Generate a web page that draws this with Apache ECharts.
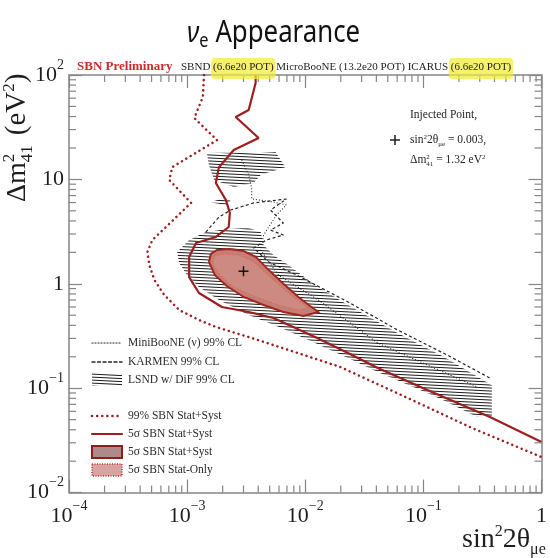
<!DOCTYPE html>
<html>
<head>
<meta charset="utf-8">
<script src="https://cdn.jsdelivr.net/npm/echarts@6/dist/echarts.min.js"></script>
<style>
  html, body { margin: 0; padding: 0; background: #fff; }
  #chart { width: 550px; height: 558px; }
</style>
</head>
<body>
<div id="chart"></div>
<script>
// ---- Contours in (sin^2 2theta_mue, dm^2_41 [eV^2]) ----
// SBN 99% CL sensitivity, stat+syst (dotted)
const sbn99X = [1.39e-3, 1.36e-3, 1.15e-3, 1.79e-3, 7.48e-4, 7.06e-4, 1.08e-3, 5.08e-4, 4.61e-4, 4.79e-4, 5.28e-4, 6.41e-4, 8.57e-4, 1.26e-3, 1.75e-3, 3.32e-3, 5.38e-3, 1.97e-2, 7.06e-2, 0.258, 1.0];
const sbn99Y = [100, 61.6, 38.7, 23.8, 13.1, 9.87, 5.95, 2.63, 2.02, 1.51, 1.09, 0.782, 0.561, 0.450, 0.386, 0.309, 0.259, 0.160, 0.0824, 0.0416, 0.0219];

// SBN 5 sigma sensitivity, stat+syst (solid)
const sbn5sX = [3.80e-3, 3.80e-3, 3.32e-3, 2.58e-3, 4.03e-3, 2.48e-3, 1.86e-3, 1.75e-3, 2.13e-3, 2.30e-3, 2.25e-3, 1.75e-3, 1.19e-3, 1.04e-3, 1.04e-3, 1.26e-3, 1.97e-3, 3.32e-3, 5.38e-3, 1.21e-2, 2.30e-2, 4.11e-2, 0.108, 0.366, 1.0];
const sbn5sY = [100, 83.8, 46.2, 39.6, 24.9, 19.1, 13.1, 9.24, 6.35, 4.77, 3.50, 2.81, 2.46, 1.81, 1.16, 0.817, 0.600, 0.537, 0.470, 0.309, 0.217, 0.156, 0.0962, 0.0530, 0.0305];

// 5 sigma allowed region around the injected point, stat+syst
const allowSystX = [1.53e-3, 1.59e-3, 1.79e-3, 2.25e-3, 3.01e-3, 3.80e-3, 4.70e-3, 6.29e-3, 8.74e-3, 1.10e-2, 1.29e-2, 9.62e-3, 6.53e-3, 4.44e-3, 3.01e-3, 2.17e-3, 1.72e-3];
const allowSystY = [1.62, 1.93, 2.11, 2.15, 2.06, 1.81, 1.42, 1.04, 0.748, 0.612, 0.537, 0.492, 0.537, 0.626, 0.748, 0.953, 1.21];

// 5 sigma allowed region, stat only
const allowStatX = [1.65e-3, 1.72e-3, 2.01e-3, 2.74e-3, 3.66e-3, 4.89e-3, 7.19e-3, 1.06e-2, 8.74e-3, 5.93e-3, 3.66e-3, 2.48e-3, 1.93e-3, 1.72e-3];
const allowStatY = [1.62, 1.85, 1.93, 1.89, 1.62, 1.21, 0.817, 0.586, 0.561, 0.626, 0.764, 0.932, 1.19, 1.42];

// LSND w/ DiF 99% CL islands
const lsndBandX = [8.24e-4, 1.04e-3, 1.44e-3, 2.25e-3, 3.32e-3, 4.19e-3, 4.44e-3, 5.38e-3, 7.19e-3, 1.21e-2, 2.30e-2, 6.05e-2, 0.150, 0.380, 0.380, 0.284, 0.159, 0.108, 4.11e-2, 2.30e-2, 1.21e-2, 6.29e-3, 3.32e-3, 1.86e-3, 1.26e-3, 1.0e-3, 8.57e-4];
const lsndBandY = [2.02, 2.63, 3.13, 3.35, 3.42, 3.13, 2.35, 1.89, 1.51, 0.975, 0.626, 0.338, 0.199, 0.107, 0.0530, 0.0530, 0.0738, 0.0899, 0.143, 0.195, 0.271, 0.378, 0.502, 0.700, 0.932, 1.21, 1.58];
const lsndHighX = [1.47e-3, 5.60e-3, 6.79e-3, 4.19e-3, 3.66e-3, 2.48e-3, 1.69e-3, 1.53e-3];
const lsndHighY = [17.9, 18.3, 13.1, 11.0, 9.24, 8.46, 9.87, 13.7];
const lsndMidX = [1.59e-3, 2.05e-3, 2.34e-3, 2.17e-3, 1.69e-3];
const lsndMidY = [6.08, 6.64, 6.35, 5.69, 5.95];

// KARMEN 99% CL (dashed)
const karmenX = [1.44e-3, 1.86e-3, 2.34e-3, 3.66e-3, 6.92e-3, 5.08e-3, 6.53e-3, 5.08e-3, 6.53e-3, 4.70e-3, 3.66e-3, 4.89e-3, 8.74e-3, 2.30e-2, 6.05e-2, 0.159, 0.366];
const karmenY = [3.13, 4.36, 5.09, 5.95, 6.49, 5.09, 3.82, 3.27, 2.93, 2.63, 2.20, 1.62, 1.19, 0.670, 0.361, 0.208, 0.125];

// MiniBooNE (nu) 99% CL (dotted)
const minibooneX = [2.90e-3, 3.32e-3, 3.52e-3, 3.52e-3, 5.38e-3, 6.92e-3, 5.70e-3, 4.44e-3, 4.19e-3, 5.93e-3, 1.29e-2, 4.11e-2, 0.108, 0.284];
const minibooneY = [15.3, 11.0, 8.28, 6.49, 6.08, 5.69, 4.56, 2.93, 2.11, 1.21, 0.700, 0.271, 0.167, 0.103];

// Injected signal point
const injectedX = [0.003];
const injectedY = [1.32];

// Axis ranges and log-minor tick multipliers
const xRange = [1e-4, 1];
const yRange = [1e-2, 1e2];
const xDecades = [1e-4, 1e-3, 1e-2, 1e-1];
const yDecades = [1e-2, 1e-1, 1, 10];
const minorSteps = [2, 3, 4, 5, 6, 7, 8, 9];

// ---- styling ----
const SERIF = '"Liberation Serif", "Times New Roman", serif';
const SANS = '"Noto Sans", "Open Sans", sans-serif';
const AXIS = '#858585';
const DARKRED = '#9c1f1f';
const INK = '#1e1e1e';

// dense near-horizontal hatching used for the LSND region
const hatch = document.createElement('canvas');
hatch.width = 60; hatch.height = 3;
(function () {
  const c = hatch.getContext('2d');
  c.strokeStyle = '#1c1c1c';
  c.lineWidth = 1;
  for (const k of [-3, 0, 3]) {
    c.beginPath(); c.moveTo(0, 0.5 + k); c.lineTo(60, 3.5 + k); c.stroke();
  }
})();
const hatchFill = { image: hatch, repeat: 'repeat' };

const measureCtx = document.createElement('canvas').getContext('2d');
function textWidth(t, font) { measureCtx.font = font; return measureCtx.measureText(t).width; }

// run of text pieces on a common baseline (supports super/subscripts)
function mathRun(x, baseline, parts, color, family) {
  const fam = family || SERIF;
  let cx = x;
  const els = [];
  for (const p of parts) {
    const font = (p.italic ? 'italic ' : '') + (p.bold ? 'bold ' : '') + p.size + 'px ' + fam;
    els.push({
      type: 'text', x: cx, y: baseline + (p.dy || 0) - 0.32 * p.size,
      style: { text: p.t, font: font, fill: p.color || color, align: 'left', verticalAlign: 'middle', textAlign: 'left', textVerticalAlign: 'middle' }
    });
    if (!p.hold) cx += textWidth(p.t, font) + (p.gap || 0);
  }
  return { els: els, end: cx };
}

function pts(xs, ys) { return xs.map((x, i) => [x, ys[i]]); }

function polygonSeries(xs, ys, style, z) {
  return {
    type: 'custom', coordinateSystem: 'cartesian2d', silent: true, z: z,
    data: [[xs[0], ys[0]]],
    renderItem: (params, api) => ({
      type: 'polygon',
      shape: { points: xs.map((x, i) => api.coord([x, ys[i]])) },
      style: style
    })
  };
}

function lineSeries(xs, ys, lineStyle, z) {
  return {
    type: 'line', data: pts(xs, ys), symbol: 'none', showSymbol: false, silent: true,
    z: z, lineStyle: lineStyle, clip: true
  };
}

const xMinor = [];
xDecades.forEach(d => minorSteps.forEach(m => xMinor.push(d * m)));
const yMinor = [];
yDecades.forEach(d => minorSteps.forEach(m => yMinor.push(d * m)));

function minorTickSeries(vals, isX) {
  return {
    type: 'custom', silent: true, z: 20,
    data: vals.map(v => isX ? [v, yRange[0]] : [xRange[0], v]),
    renderItem: (params, api) => {
      const st = { stroke: AXIS, lineWidth: 1.2 };
      if (isX) {
        const v = api.value(0);
        const b = api.coord([v, yRange[0]]), t = api.coord([v, yRange[1]]);
        return { type: 'group', children: [
          { type: 'line', shape: { x1: b[0], y1: b[1], x2: b[0], y2: b[1] - 7 }, style: st },
          { type: 'line', shape: { x1: t[0], y1: t[1], x2: t[0], y2: t[1] + 7 }, style: st }
        ] };
      }
      const v = api.value(1);
      const l = api.coord([xRange[0], v]), r = api.coord([xRange[1], v]);
      return { type: 'group', children: [
        { type: 'line', shape: { x1: l[0], y1: l[1], x2: l[0] + 7, y2: l[1] }, style: st },
        { type: 'line', shape: { x1: r[0], y1: r[1], x2: r[0] - 7, y2: r[1] }, style: st }
      ] };
    }
  };
}

function powLabel(v) {
  const e = Math.round(Math.log10(v));
  if (e === 0) return '{m|1}';
  if (e === 1) return '{m|10}';
  return '{m|10}{s|' + (e < 0 ? '\u2212' + (-e) : e) + '}';
}
const labelRich = {
  m: { fontFamily: SERIF, fontSize: 22, color: INK, lineHeight: 34, verticalAlign: 'middle' },
  s: { fontFamily: SERIF, fontSize: 14, color: INK, lineHeight: 12, verticalAlign: 'top' }
};

function axisCommon(show) {
  return {
    type: 'log', logBase: 10,
    axisLine: { show: true, lineStyle: { color: AXIS, width: 1.5 } },
    axisTick: { show: true, inside: true, length: 13, lineStyle: { color: AXIS, width: 1.2 } },
    splitLine: { show: false },
    axisLabel: show ? { show: true, formatter: powLabel, rich: labelRich } : { show: false }
  };
}

const xBottom = Object.assign(axisCommon(true), { min: xRange[0], max: xRange[1], position: 'bottom' });
xBottom.axisLabel.margin = 7;
const xTop = Object.assign(axisCommon(false), { min: xRange[0], max: xRange[1], position: 'top' });
const yLeft = Object.assign(axisCommon(true), { min: yRange[0], max: yRange[1], position: 'left' });
yLeft.axisLabel.margin = 5;
const yRight = Object.assign(axisCommon(false), { min: yRange[0], max: yRange[1], position: 'right' });

// ---- annotation graphics ----
const graphics = [];

// title (sans face, slightly condensed)
const title = mathRun(0, 0, [
  { t: '\u03bd', size: 30, italic: true },
  { t: 'e', size: 19, dy: 5, gap: 8 },
  { t: 'Appearance', size: 30 }
], '#111', SANS);
graphics.push({ type: 'group', x: 187, y: 43, scaleX: 0.86, children: title.els });

// header line
const hdrFont = '11px ' + SERIF;
const prelim = mathRun(77, 71, [{ t: 'SBN Preliminary', size: 13, bold: true, color: '#cc2a2a' }], '#cc2a2a');
graphics.push(...prelim.els);
const hdrPieces = ['SBND ', '(6.6e20 POT)', ' MicroBooNE (13.2e20 POT) ICARUS ', '(6.6e20 POT)'];
let hx = 181;
hdrPieces.forEach((p, i) => {
  const w = textWidth(p, hdrFont);
  if (i === 1 || i === 3) {
    graphics.push({ type: 'rect', z: 50, shape: { x: hx - 2, y: 58, width: w + 4, height: 21, r: 4 }, style: { fill: 'rgba(242,236,50,0.72)' } });
  }
  graphics.push({ type: 'text', z: 51, x: hx, y: 71 - 0.32 * 11, style: { text: p, font: hdrFont, fill: '#222', align: 'left', verticalAlign: 'middle' } });
  hx += w;
});

// y-axis title (rotated)
const yt = mathRun(0, 0, [
  { t: '\u0394m', size: 28 },
  { t: '2', size: 17, dy: -12, hold: true },
  { t: '41', size: 17, dy: 6, gap: 10 },
  { t: '(eV', size: 29 },
  { t: '2', size: 17, dy: -12 },
  { t: ')', size: 29 }
], INK);
graphics.push({ type: 'group', x: 27, y: 202, rotation: Math.PI / 2, children: yt.els });

// x-axis title
const xt = mathRun(462, 549, [
  { t: 'sin', size: 28 },
  { t: '2', size: 16, dy: -12 },
  { t: '2\u03b8', size: 28 },
  { t: '\u03bce', size: 16, dy: 6 }
], INK);
graphics.push(...xt.els);

// injected-point note
graphics.push(...mathRun(410, 119, [{ t: 'Injected Point,', size: 11.5 }], INK).els);
graphics.push({ type: 'line', shape: { x1: 390, y1: 140, x2: 400, y2: 140 }, style: { stroke: INK, lineWidth: 1.5 } });
graphics.push({ type: 'line', shape: { x1: 395, y1: 135, x2: 395, y2: 145 }, style: { stroke: INK, lineWidth: 1.5 } });
graphics.push(...mathRun(410, 144, [
  { t: 'sin', size: 11.5 }, { t: '2', size: 7, dy: -5 }, { t: '2\u03b8', size: 11.5 },
  { t: '\u03bce', size: 7, dy: 2 }, { t: ' = 0.003,', size: 11.5 }
], INK).els);
graphics.push(...mathRun(410, 164, [
  { t: '\u0394m', size: 11.5 }, { t: '2', size: 7, dy: -5, hold: true }, { t: '41', size: 7, dy: 2 },
  { t: ' = 1.32 eV', size: 11.5 }, { t: '2', size: 7, dy: -5 }
], INK).els);

// legend
const legX1 = 92, legX2 = 122, legTx = 128;
const legRows = [
  { y: 343, kind: 'line', stroke: '#222', width: 1.2, dash: [1, 2], text: 'MiniBooNE (\u03bd) 99% CL' },
  { y: 362, kind: 'line', stroke: '#222', width: 1.3, dash: [3, 2.5], text: 'KARMEN 99% CL' },
  { y: 380, kind: 'hatch', text: 'LSND w/ DiF 99% CL' },
  { y: 416, kind: 'line', stroke: DARKRED, width: 2.5, dash: [0.1, 5], text: '99% SBN Stat+Syst' },
  { y: 434, kind: 'line', stroke: DARKRED, width: 2.2, dash: null, text: '5\u03c3 SBN Stat+Syst' },
  { y: 452, kind: 'syst', text: '5\u03c3 SBN Stat+Syst' },
  { y: 470, kind: 'stat', text: '5\u03c3 SBN Stat-Only' }
];
legRows.forEach(r => {
  if (r.kind === 'line') {
    graphics.push({ type: 'line', shape: { x1: legX1, y1: r.y, x2: legX2, y2: r.y }, style: { stroke: r.stroke, lineWidth: r.width, lineDash: r.dash, lineCap: 'round' } });
  } else if (r.kind === 'hatch') {
    graphics.push({ type: 'rect', shape: { x: legX1, y: r.y - 7, width: 30, height: 13 }, style: { fill: hatchFill } });
  } else if (r.kind === 'syst') {
    graphics.push({ type: 'rect', shape: { x: legX1, y: r.y - 6, width: 30, height: 12 }, style: { fill: '#b08a8a', stroke: '#8e1d1d', lineWidth: 2 } });
  } else {
    graphics.push({ type: 'rect', shape: { x: legX1, y: r.y - 6, width: 30, height: 12 }, style: { fill: '#d7a3a3', stroke: '#c0392b', lineWidth: 1.5, lineDash: [1, 1.5] } });
  }
  graphics.push(...mathRun(legTx, r.y + 4, [{ t: r.text, size: 11.5 }], '#2a2a2a').els);
});

const option = {
  animation: false,
  backgroundColor: '#fff',
  grid: { left: 69, top: 75, width: 476, height: 417.6, containLabel: false },
  xAxis: [xBottom, xTop],
  yAxis: [yLeft, yRight],
  series: [
    polygonSeries(lsndBandX, lsndBandY, { fill: hatchFill }, 1),
    polygonSeries(lsndHighX, lsndHighY, { fill: hatchFill }, 1),
    polygonSeries(lsndMidX, lsndMidY, { fill: hatchFill }, 1),
    lineSeries(minibooneX, minibooneY, { color: '#222', width: 1.1, type: [1, 2] }, 2),
    lineSeries(karmenX, karmenY, { color: '#222', width: 1.2, type: [3, 2.5] }, 2),
    polygonSeries(allowSystX, allowSystY, { fill: '#c47e77', stroke: '#a3261f', lineWidth: 2 }, 3),
    polygonSeries(allowStatX, allowStatY, { fill: '#cd8a83', stroke: '#e0603a', lineWidth: 1.1, lineDash: [1, 2] }, 4),
    lineSeries(sbn99X, sbn99Y, { color: DARKRED, width: 2.5, type: [0.1, 5], cap: 'round' }, 5),
    lineSeries(sbn5sX, sbn5sY, { color: DARKRED, width: 2.2 }, 5),
    {
      type: 'custom', silent: true, z: 6, data: pts(injectedX, injectedY),
      renderItem: (params, api) => {
        const p = api.coord([api.value(0), api.value(1)]);
        const st = { stroke: '#111', lineWidth: 1.5 };
        return { type: 'group', children: [
          { type: 'line', shape: { x1: p[0] - 5, y1: p[1], x2: p[0] + 5, y2: p[1] }, style: st },
          { type: 'line', shape: { x1: p[0], y1: p[1] - 5, x2: p[0], y2: p[1] + 5 }, style: st }
        ] };
      }
    },
    minorTickSeries(xMinor, true),
    minorTickSeries(yMinor, false)
  ],
  graphic: { elements: graphics.map(g => Object.assign({ z: g.z || 100 }, g)) }
};

const chart = echarts.init(document.getElementById('chart'));
chart.setOption(option);
</script>
</body>
</html>
